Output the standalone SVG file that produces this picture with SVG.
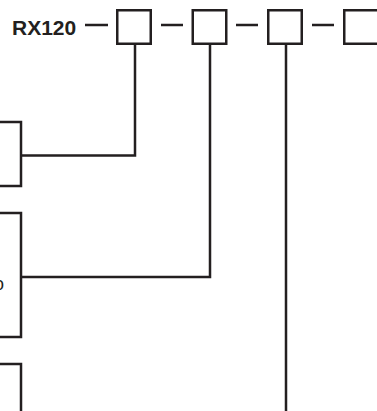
<svg xmlns="http://www.w3.org/2000/svg" width="377" height="411" viewBox="0 0 377 411">
<style>
.b{fill:none;stroke:#231f20;stroke-width:2.5}
.c{fill:none;stroke:#231f20;stroke-width:2.5}
.t{font-family:"Liberation Sans",Arial,sans-serif;fill:#231f20}
</style>
<rect width="377" height="411" fill="#fff"/>
<g id="title"><text class="t" x="12" y="35" font-size="21" font-weight="bold">RX120</text></g>
<g id="box1"><rect class="b" x="117.25" y="10.25" width="33.5" height="33.5"/></g>
<g id="box2"><rect class="b" x="192.75" y="10.25" width="33.5" height="33.5"/></g>
<g id="box3"><rect class="b" x="268.25" y="10.25" width="33.5" height="33.5"/></g>
<g id="box4"><rect class="b" x="344.25" y="10.25" width="40" height="33.5"/></g>
<g id="left1"><rect class="b" x="-20" y="122" width="41" height="64"/></g>
<g id="left2"><rect class="b" x="-20" y="213" width="41" height="124"/><text class="t" x="4" y="290" font-size="18" text-anchor="end">o</text></g>
<g id="left3"><rect class="b" x="-20" y="364" width="41" height="80"/></g>
<g id="connectors">
<path class="c" d="M85 25H108M161 25H183M236 25H258M312 25H334"/>
<path class="c" d="M135 44V155.5H21"/>
<path class="c" d="M210 44V277H21"/>
<path class="c" d="M286 44V412"/>
</g>
</svg>
